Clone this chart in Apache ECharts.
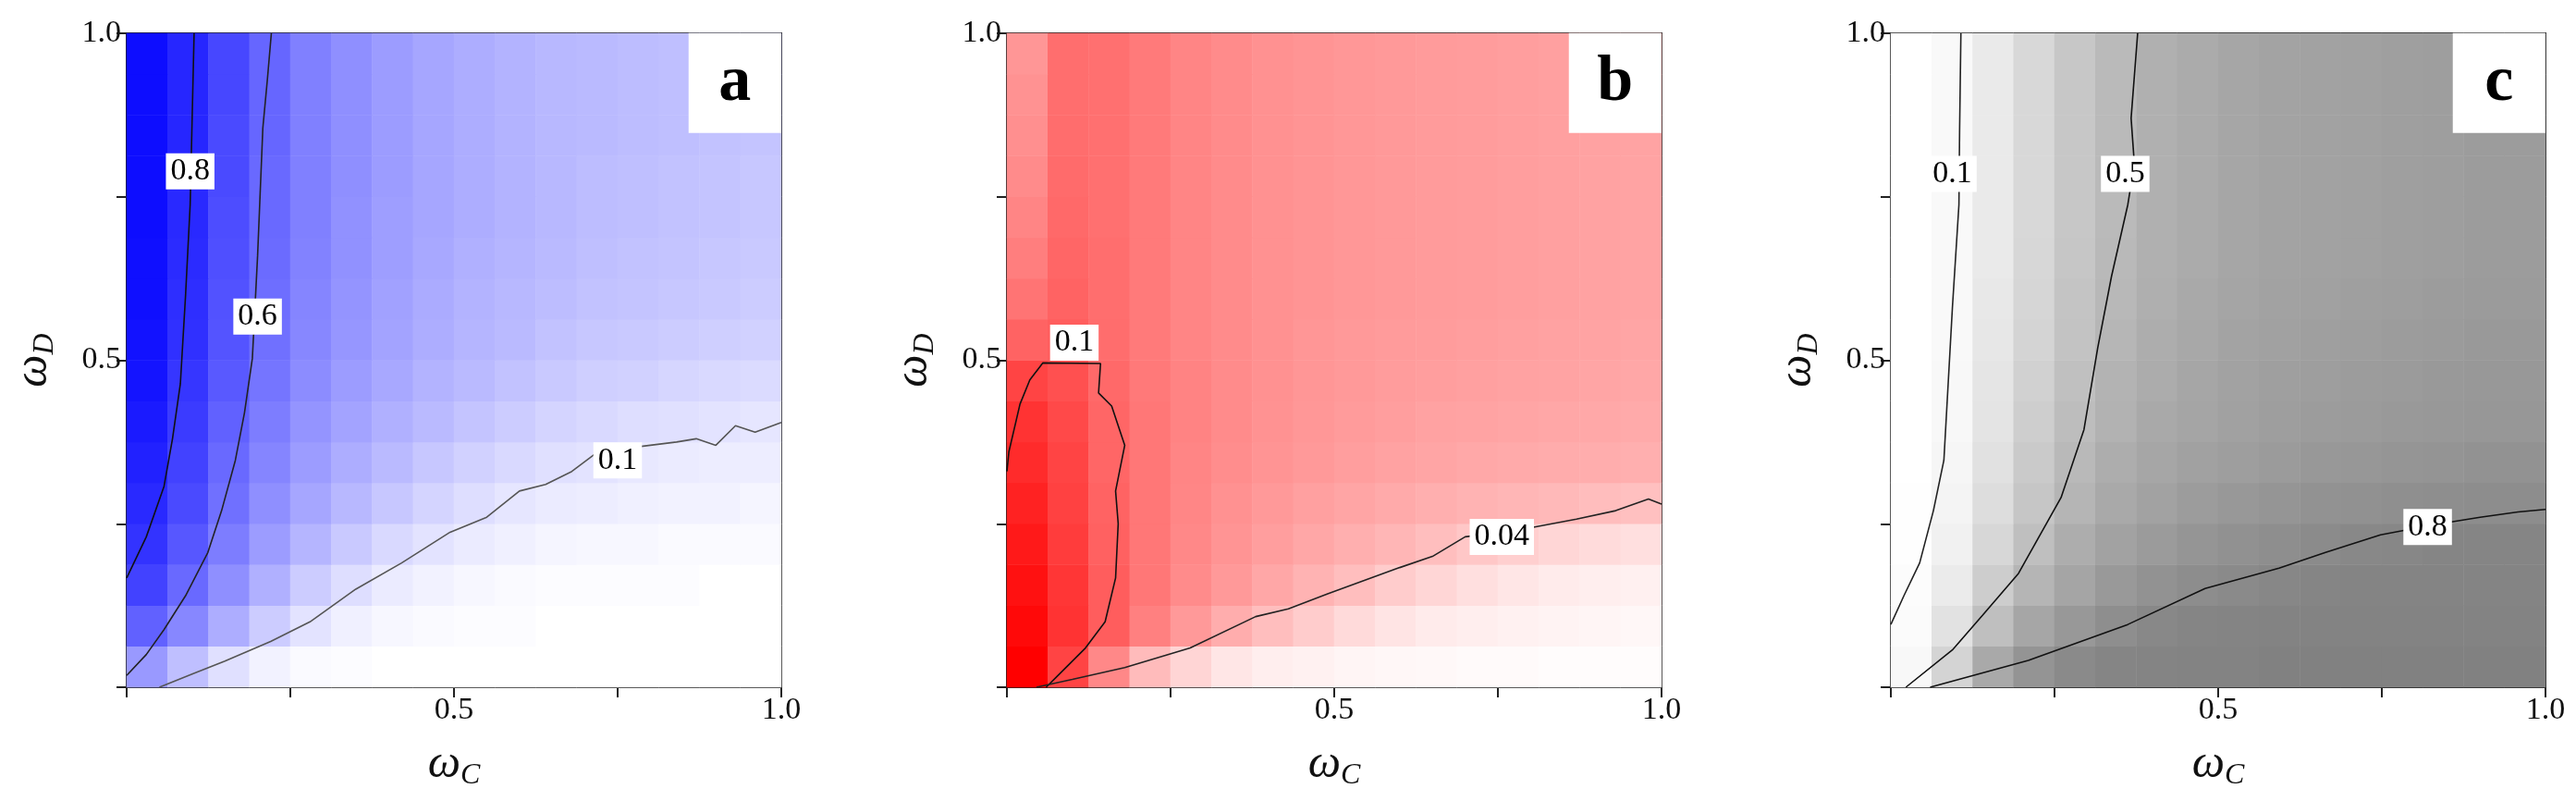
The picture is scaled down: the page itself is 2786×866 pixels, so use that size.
<!DOCTYPE html>
<html>
<head>
<meta charset="utf-8">
<script src="https://cdn.jsdelivr.net/npm/echarts@6/dist/echarts.min.js"></script>
<style>html,body{margin:0;padding:0;background:#fff}#chart{width:2786px;height:866px}</style>
</head>
<body>
<div id="chart"></div>
<script>
// cell columns / rows (centres, 16 x 16), rows listed bottom -> top
var cells = ['0.03','0.09','0.16','0.22','0.28','0.34','0.41','0.47','0.53','0.59','0.66','0.72','0.78','0.84','0.91','0.97'];
var tickLabels = {0.5: '0.5', 1: '1.0'};

var valuesA = [
  [.40,.25,.12,.05,.02,.01,0,0,0,0,0,0,0,0,0,0],
  [.62,.47,.32,.20,.11,.06,.03,.02,.01,.01,0,0,0,0,0,0],
  [.74,.59,.44,.31,.20,.13,.08,.05,.03,.02,.01,.01,.01,.01,0,0],
  [.80,.66,.51,.39,.29,.21,.15,.11,.08,.06,.04,.03,.03,.02,.02,.02],
  [.84,.71,.56,.44,.35,.28,.22,.17,.13,.10,.08,.07,.06,.05,.05,.04],
  [.87,.74,.59,.48,.39,.32,.27,.22,.18,.15,.12,.11,.09,.08,.07,.07],
  [.90,.77,.62,.51,.42,.36,.31,.27,.23,.20,.17,.15,.13,.12,.11,.10],
  [.92,.79,.65,.54,.45,.39,.34,.30,.27,.24,.21,.19,.18,.16,.15,.14],
  [.93,.81,.67,.56,.47,.41,.36,.32,.29,.27,.24,.22,.21,.20,.19,.18],
  [.94,.82,.68,.57,.48,.42,.37,.33,.30,.28,.26,.24,.23,.22,.21,.20],
  [.94,.83,.69,.58,.49,.43,.38,.34,.31,.29,.27,.25,.24,.23,.22,.21],
  [.95,.84,.70,.59,.50,.43,.38,.35,.32,.30,.28,.26,.25,.24,.23,.22],
  [.95,.84,.71,.59,.50,.44,.39,.35,.32,.30,.28,.26,.25,.24,.23,.22],
  [.95,.85,.71,.60,.50,.44,.39,.35,.32,.30,.28,.27,.26,.25,.24,.23],
  [.95,.85,.72,.60,.50,.44,.39,.35,.32,.30,.28,.27,.26,.25,.24,.23],
  [.95,.85,.72,.60,.50,.44,.39,.35,.32,.30,.28,.27,.26,.25,.24,.23]
];
var valuesB = [
  [.150,.110,.070,.040,.025,.015,.010,.008,.006,.005,.004,.003,.003,.002,.002,.002],
  [.145,.120,.095,.075,.060,.048,.038,.030,.022,.016,.012,.010,.008,.007,.006,.005],
  [.140,.118,.095,.080,.068,.060,.052,.045,.038,.030,.024,.019,.015,.012,.010,.009],
  [.135,.115,.093,.080,.070,.063,.057,.052,.047,.043,.038,.033,.028,.024,.021,.019],
  [.130,.112,.092,.080,.071,.065,.060,.056,.053,.050,.047,.045,.043,.041,.039,.037],
  [.125,.110,.090,.080,.072,.067,.063,.060,.057,.055,.053,.051,.050,.049,.048,.047],
  [.120,.107,.090,.080,.073,.068,.064,.061,.059,.057,.055,.054,.053,.052,.051,.050],
  [.110,.103,.088,.079,.073,.068,.065,.062,.060,.058,.057,.056,.055,.054,.053,.052],
  [.092,.095,.086,.078,.072,.068,.065,.062,.060,.059,.058,.057,.056,.055,.054,.053],
  [.082,.092,.085,.078,.072,.068,.065,.063,.061,.060,.059,.058,.057,.056,.055,.054],
  [.076,.090,.085,.078,.072,.068,.065,.063,.061,.060,.059,.058,.057,.056,.055,.054],
  [.072,.088,.084,.078,.072,.068,.065,.063,.061,.060,.059,.058,.057,.056,.055,.054],
  [.068,.087,.084,.078,.072,.068,.065,.063,.061,.060,.059,.058,.057,.056,.055,.054],
  [.066,.086,.084,.078,.072,.068,.065,.063,.061,.060,.059,.058,.057,.056,.055,.054],
  [.064,.085,.084,.078,.072,.068,.065,.063,.061,.060,.059,.058,.057,.056,.055,.054],
  [.062,.085,.084,.078,.072,.068,.065,.063,.061,.060,.059,.058,.057,.056,.055,.054]
];
var valuesC = [
  [.05,.30,.60,.75,.82,.85,.86,.87,.87,.88,.88,.88,.88,.88,.88,.88],
  [.03,.20,.45,.62,.72,.79,.83,.85,.86,.87,.87,.87,.87,.87,.87,.87],
  [.02,.14,.35,.52,.63,.71,.76,.80,.82,.84,.85,.86,.86,.86,.86,.86],
  [.01,.10,.28,.45,.57,.65,.70,.74,.77,.79,.81,.83,.84,.85,.85,.85],
  [.01,.08,.24,.40,.52,.60,.65,.69,.72,.74,.76,.77,.78,.79,.80,.80],
  [0,.06,.21,.37,.49,.57,.62,.66,.68,.70,.72,.73,.74,.75,.76,.76],
  [0,.05,.19,.34,.46,.54,.60,.63,.66,.68,.69,.70,.71,.72,.73,.73],
  [0,.05,.18,.32,.44,.53,.58,.62,.65,.67,.68,.69,.70,.71,.72,.72],
  [0,.04,.17,.30,.42,.51,.57,.61,.64,.66,.67,.68,.69,.70,.71,.71],
  [0,.04,.16,.29,.41,.50,.56,.60,.63,.65,.66,.67,.68,.69,.70,.70],
  [0,.04,.15,.28,.40,.49,.55,.59,.62,.64,.65,.66,.67,.68,.69,.69],
  [0,.04,.15,.27,.39,.48,.55,.59,.62,.64,.65,.66,.67,.68,.69,.69],
  [0,.04,.15,.27,.39,.48,.55,.59,.62,.64,.65,.66,.67,.68,.69,.69],
  [0,.04,.15,.27,.39,.48,.55,.59,.62,.64,.65,.66,.67,.68,.69,.69],
  [0,.04,.15,.27,.39,.48,.55,.59,.62,.64,.65,.66,.67,.68,.69,.69],
  [0,.04,.15,.27,.39,.48,.55,.59,.62,.64,.65,.66,.67,.68,.69,.69]
];

// contour lines [wC, wD]
var contA08 = [[0.103,1],[0.1,0.87],[0.097,0.738],[0.09,0.6],[0.082,0.464],[0.07,0.38],[0.057,0.307],[0.03,0.23],[0,0.167]];
var contA06 = [[0.221,1],[0.215,0.93],[0.208,0.855],[0.2,0.66],[0.192,0.503],[0.18,0.42],[0.166,0.347],[0.145,0.27],[0.124,0.206],[0.09,0.14],[0.057,0.088],[0.03,0.05],[0,0.018]];
var contA01 = [[0.05,0],[0.1,0.02],[0.15,0.04],[0.22,0.07],[0.28,0.1],[0.35,0.15],[0.42,0.19],[0.494,0.237],[0.55,0.26],[0.6,0.3],[0.64,0.31],[0.68,0.33],[0.72,0.36],[0.8,0.37],[0.84,0.375],[0.87,0.38],[0.9,0.37],[0.93,0.4],[0.96,0.39],[1,0.405]];
var contB01 = [[0,0.33],[0.003,0.36],[0.02,0.433],[0.035,0.47],[0.055,0.496],[0.143,0.495],[0.14,0.45],[0.16,0.43],[0.17,0.4],[0.18,0.37],[0.166,0.3],[0.17,0.25],[0.166,0.167],[0.15,0.1],[0.12,0.06],[0.08,0.02],[0.06,0]];
var contB004 = [[0.045,0],[0.1,0.012],[0.18,0.03],[0.28,0.06],[0.38,0.108],[0.43,0.12],[0.49,0.143],[0.6,0.183],[0.65,0.2],[0.7,0.23],[0.78,0.24],[0.87,0.257],[0.93,0.27],[0.98,0.288],[1,0.28]];
var contC01 = [[0.107,1],[0.105,0.85],[0.104,0.738],[0.094,0.58],[0.081,0.347],[0.065,0.27],[0.044,0.19],[0.02,0.14],[0,0.096]];
var contC05 = [[0.377,1],[0.367,0.87],[0.372,0.8],[0.362,0.738],[0.337,0.628],[0.316,0.519],[0.295,0.394],[0.26,0.29],[0.195,0.174],[0.14,0.11],[0.094,0.057],[0.023,0]];
var contC08 = [[0.06,0],[0.21,0.041],[0.362,0.096],[0.48,0.151],[0.593,0.182],[0.664,0.206],[0.748,0.233],[0.832,0.249],[0.9,0.26],[0.958,0.268],[1,0.272]];

// contour labels [wC, wD, text]
var labelsA = [[0.097,0.789,'0.8'],[0.2,0.567,'0.6'],[0.75,0.347,'0.1']];
var labelsB = [[0.103,0.527,'0.1'],[0.756,0.23,'0.04']];
var labelsC = [[0.094,0.785,'0.1'],[0.358,0.785,'0.5'],[0.82,0.245,'0.8']];
var panelLetters = ['a','b','c'];

var FONT = 'Liberation Serif';
var panels = [
  {vals: valuesA, max: 1, color: '#0000ff', conts: [[contA08,'#111'],[contA06,'#222'],[contA01,'#555']], labels: labelsA},
  {vals: valuesB, max: 0.15, color: '#ff0000', conts: [[contB01,'#111'],[contB004,'#222']], labels: labelsB},
  {vals: valuesC, max: 1, color: '#707070', conts: [[contC01,'#222'],[contC05,'#111'],[contC08,'#111']], labels: labelsC}
];
var lefts = [137, 1089, 2045];

var nameRich = {w: {fontFamily: FONT, fontStyle: 'italic', fontSize: 50, color: '#111'},
                s: {fontFamily: FONT, fontStyle: 'italic', fontSize: 32, color: '#111', padding: [24, 0, 0, 0]}};

var grid = [], xAxis = [], yAxis = [], series = [], visualMap = [];
panels.forEach(function (p, k) {
  grid.push({left: lefts[k], top: 36, width: 708, height: 707});
  xAxis.push({type: 'category', gridIndex: k, data: cells, show: false});
  xAxis.push({type: 'value', gridIndex: k, min: 0, max: 1, interval: 0.25, position: 'bottom',
    name: '{w|ω}{s|C}', nameLocation: 'middle', nameGap: 56, nameTextStyle: {rich: nameRich},
    axisLine: {lineStyle: {color: '#222', width: 2}},
    axisTick: {length: 11, lineStyle: {color: '#222', width: 2}},
    axisLabel: {fontFamily: FONT, fontSize: 34, color: '#111', margin: 8,
      formatter: function (v) { return tickLabels[v] || ''; }},
    splitLine: {show: false}});
  xAxis.push({type: 'value', gridIndex: k, min: 0, max: 1, position: 'top',
    axisLine: {lineStyle: {color: '#222', width: 2}}, axisTick: {show: false},
    axisLabel: {show: false}, splitLine: {show: false}});
  yAxis.push({type: 'category', gridIndex: k, data: cells, show: false});
  yAxis.push({type: 'value', gridIndex: k, min: 0, max: 1, interval: 0.25, position: 'left',
    name: '{w|ω}{s|D}', nameLocation: 'middle', nameGap: 72, nameTextStyle: {rich: nameRich},
    axisLine: {lineStyle: {color: '#222', width: 2}},
    axisTick: {length: 11, lineStyle: {color: '#222', width: 2}},
    axisLabel: {fontFamily: FONT, fontSize: 34, color: '#111', margin: 6,
      formatter: function (v) { return tickLabels[v] || ''; }},
    splitLine: {show: false}});
  yAxis.push({type: 'value', gridIndex: k, min: 0, max: 1, position: 'right',
    axisLine: {lineStyle: {color: '#222', width: 2}}, axisTick: {show: false},
    axisLabel: {show: false}, splitLine: {show: false}});

  var data = [];
  p.vals.forEach(function (row, j) {
    row.forEach(function (v, i) { data.push([i, j, v]); });
  });
  visualMap.push({show: false, seriesIndex: series.length, min: 0, max: p.max,
    inRange: {color: ['#ffffff', p.color]}});
  series.push({type: 'heatmap', xAxisIndex: 3 * k, yAxisIndex: 3 * k, data: data, z: 1});

  p.conts.forEach(function (c) {
    series.push({type: 'line', xAxisIndex: 3 * k + 1, yAxisIndex: 3 * k + 1, data: c[0],
      showSymbol: false, symbol: 'none', lineStyle: {color: c[1], width: 1.6}, z: 3, silent: true});
  });
  series.push({type: 'scatter', xAxisIndex: 3 * k + 1, yAxisIndex: 3 * k + 1, symbolSize: 1, z: 5,
    itemStyle: {opacity: 1, color: '#fff'},
    data: p.labels.map(function (l) { return {value: [l[0], l[1]], name: l[2]}; }),
    label: {show: true, position: 'inside', formatter: '{b}', fontFamily: FONT, fontSize: 34, color: '#000',
      backgroundColor: '#fff', padding: [4, 5, 1, 5], opacity: 1}});
  series.push({type: 'scatter', xAxisIndex: 3 * k + 1, yAxisIndex: 3 * k + 1, symbolSize: 1, z: 6,
    itemStyle: {opacity: 1, color: '#fff'},
    data: [{value: [0.929, 0.924], name: panelLetters[k]}],
    label: {show: true, position: 'inside', formatter: '{b}', fontFamily: FONT, fontWeight: 'bold', fontSize: 70,
      color: '#000', backgroundColor: '#fff', width: 100, height: 108, lineHeight: 100, align: 'center',
      verticalAlign: 'middle', opacity: 1}});
});

var chart = echarts.init(document.getElementById('chart'));
chart.setOption({animation: false, grid: grid, xAxis: xAxis, yAxis: yAxis, visualMap: visualMap, series: series});
</script>
</body>
</html>
